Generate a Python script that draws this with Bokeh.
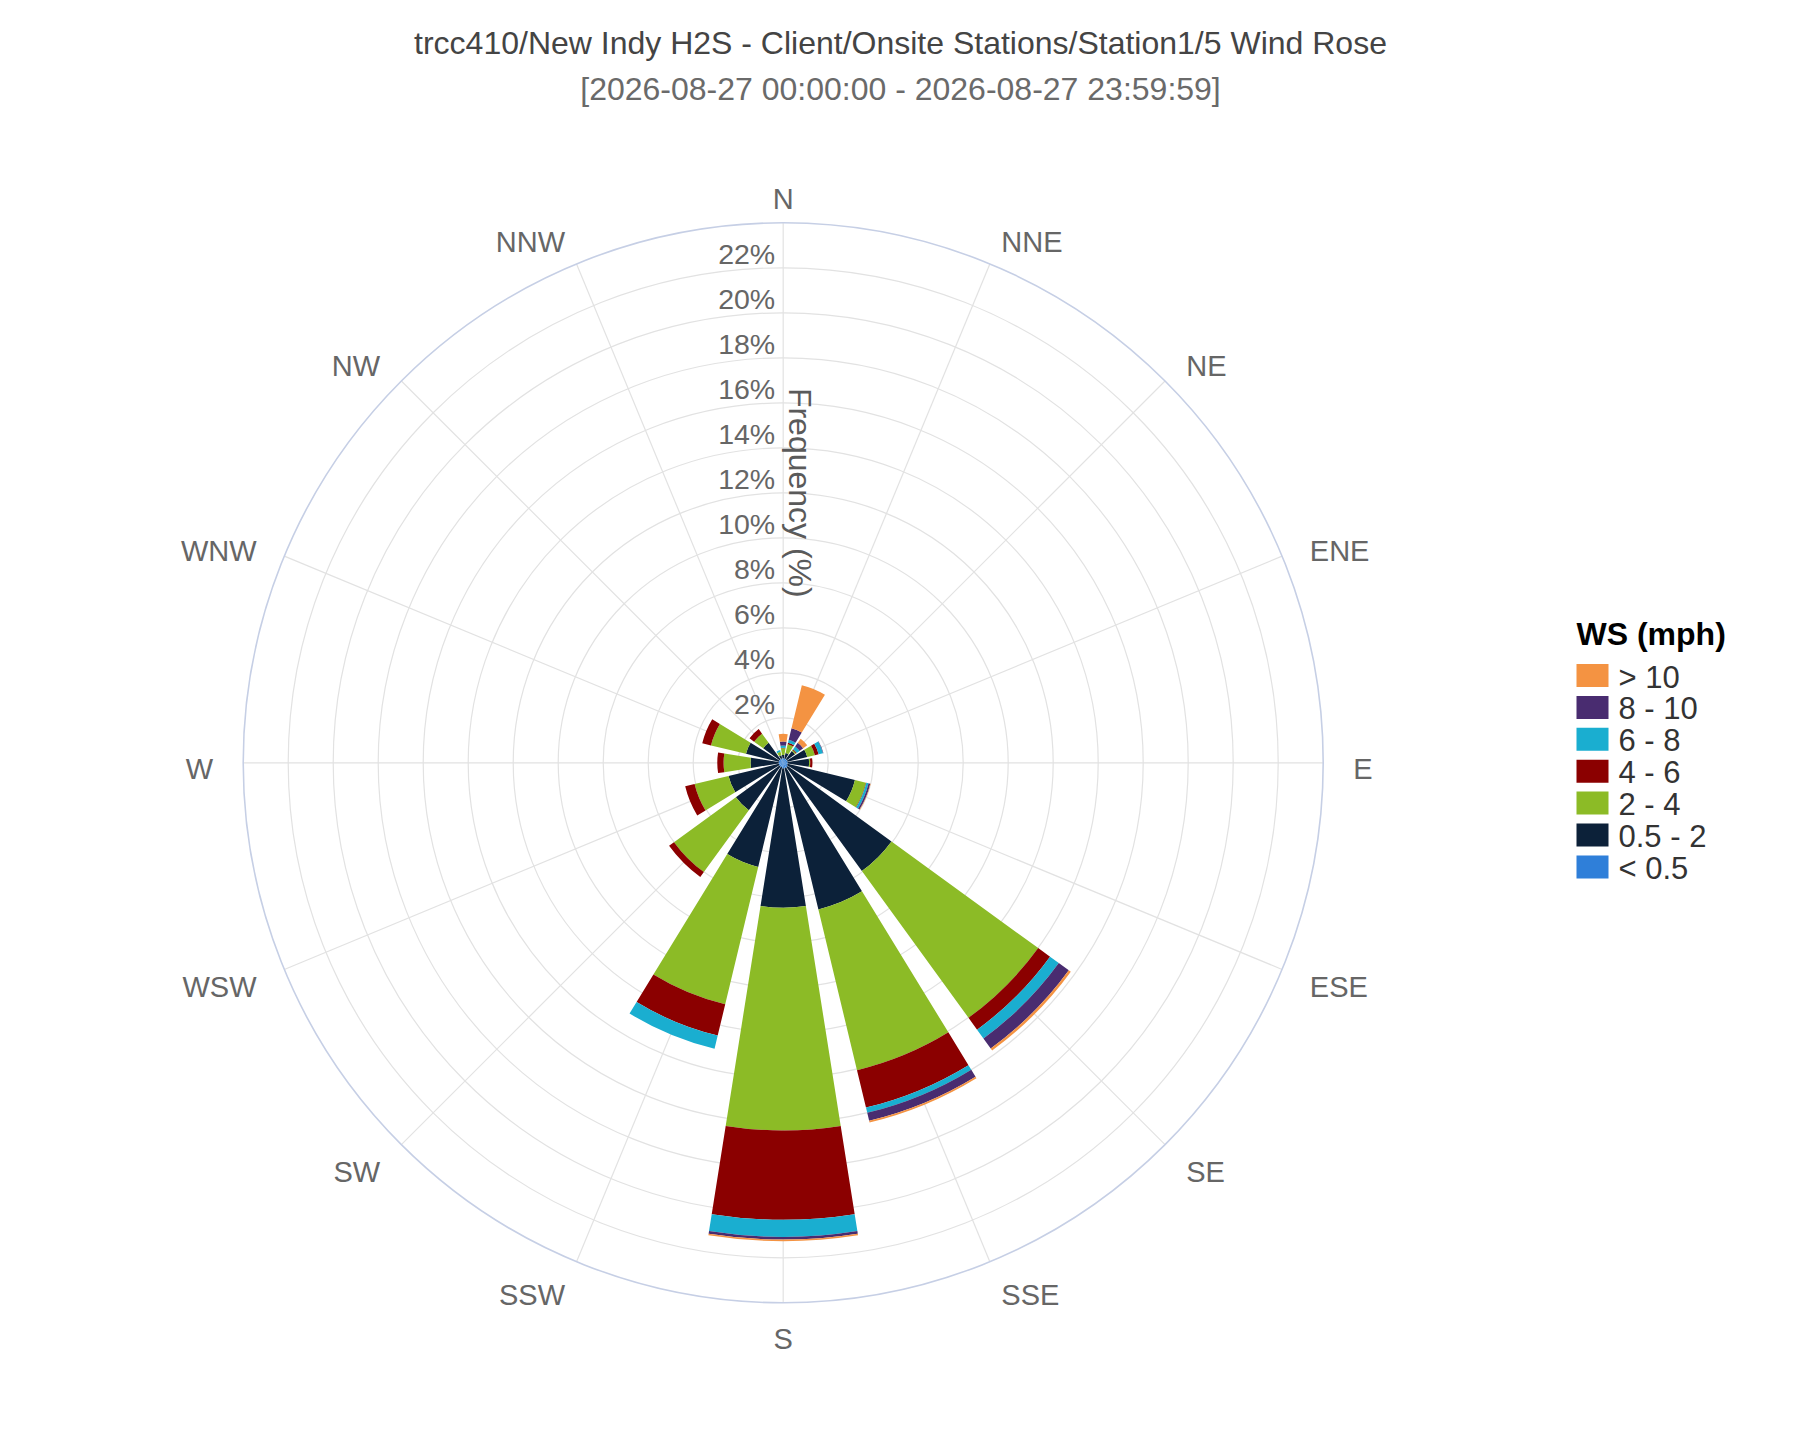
import numpy as np
from bokeh.plotting import figure
from bokeh.models import Range1d, ColumnDataSource
from bokeh.embed import file_html
from bokeh.resources import INLINE
from bokeh.core.properties import value

# ---------------- data ----------------
title_text = "trcc410/New Indy H2S - Client/Onsite Stations/Station1/5 Wind Rose"
subtitle_text = "[2026-08-27 00:00:00 - 2026-08-27 23:59:59]"
radial_title = "Frequency (%)"
legend_title = "WS (mph)"

directions = ["N", "NNE", "NE", "ENE", "E", "ESE", "SE", "SSE",
              "S", "SSW", "SW", "WSW", "W", "WNW", "NW", "NNW"]
speed_bins = ["< 0.5", "0.5 - 2", "2 - 4", "4 - 6", "6 - 8", "8 - 10", "> 10"]
bin_colors = ["#2f7fd9", "#0c2139", "#8cbb26", "#8b0000", "#1aaed0", "#492c70", "#f49342"]

#            N     NNE   NE    ENE   E     ESE   SE    SSE   S     SSW   SW    WSW   W     WNW   NW    NNW
freq_lt05 = [0.20, 0.20, 0.20, 0.20, 0.20, 0.20, 0.25, 0.25, 0.25, 0.20, 0.20, 0.20, 0.20, 0.20, 0.20, 0.20]
freq_05_2 = [0.15, 0.25, 0.45, 0.90, 0.95, 3.08, 5.70, 6.45, 6.19, 4.56, 2.40, 2.30, 1.25, 1.50, 0.90, 0.15]
freq_2_4  = [0.30, 0.40, 0.05, 0.35, 0.05, 0.50, 8.06, 7.35, 9.90, 6.28, 3.40, 1.55, 1.20, 1.60, 0.50, 0.15]
freq_4_6  = [0.02, 0.07, 0.05, 0.17, 0.10, 0.02, 0.65, 1.71, 3.97, 1.43, 0.27, 0.43, 0.28, 0.40, 0.25, 0.00]
freq_6_8  = [0.10, 0.13, 0.15, 0.20, 0.00, 0.10, 0.48, 0.24, 0.76, 0.60, 0.00, 0.00, 0.00, 0.00, 0.00, 0.08]
freq_8_10 = [0.18, 0.53, 0.20, 0.02, 0.00, 0.08, 0.55, 0.36, 0.12, 0.00, 0.00, 0.00, 0.00, 0.00, 0.00, 0.00]
freq_gt10 = [0.34, 1.97, 0.22, 0.00, 0.00, 0.02, 0.11, 0.08, 0.07, 0.00, 0.00, 0.00, 0.00, 0.00, 0.00, 0.00]

radial_ticks = [2, 4, 6, 8, 10, 12, 14, 16, 18, 20, 22]
radial_max = 24.0

series = [freq_lt05, freq_05_2, freq_2_4, freq_4_6, freq_6_8, freq_8_10, freq_gt10]

# ---------------- layout ----------------
W, H = 1784, 1424
SCALE = 22.5                  # pixels per percent
CX, CY = 782.7, 762.3         # polar centre on the canvas (px)
FONT = value("Liberation Sans")

p = figure(width=W, height=H, output_backend="svg", toolbar_location=None,
           x_range=Range1d(-CX / SCALE, (W - CX) / SCALE),
           y_range=Range1d(-(H - CY) / SCALE, CY / SCALE),
           x_axis_type=None, y_axis_type=None, min_border=0)
p.grid.visible = False
p.outline_line_color = None
p.background_fill_color = "white"


def canvas_xy(px, py):
    """canvas pixel position -> data units"""
    return (px - CX) / SCALE, (CY - py) / SCALE


compass = np.arange(len(directions)) * 22.5
math_ang = np.deg2rad(90.0 - compass)
half_w = np.deg2rad(9.0)

# grid
p.circle(x=0, y=0, radius=radial_ticks, fill_color=None, line_color="#e2e2e2", line_width=1.2)
p.segment(x0=np.zeros(16), y0=np.zeros(16),
          x1=radial_max * np.cos(math_ang), y1=radial_max * np.sin(math_ang),
          line_color="#e2e2e2", line_width=1.2)
p.circle(x=0, y=0, radius=[radial_max], fill_color=None, line_color="#c6cfe5", line_width=1.6)

# stacked bars
cum = np.zeros(len(directions))
for name, vals, col in zip(speed_bins, series, bin_colors):
    vals = np.array(vals, dtype=float)
    src = ColumnDataSource(dict(
        x=np.zeros(16), y=np.zeros(16),
        inner=cum.copy(), outer=cum + vals,
        start=math_ang - half_w, end=math_ang + half_w,
        direction=directions, freq=vals))
    p.annular_wedge(x="x", y="y", inner_radius="inner", outer_radius="outer",
                    start_angle="start", end_angle="end", source=src,
                    fill_color=col, line_color=None)
    cum = cum + vals

# radial tick labels (sit just above their grid circle, left of the axis)
p.text(x=np.zeros(len(radial_ticks)), y=radial_ticks,
       text=[f"{t}%" for t in radial_ticks],
       text_align="right", text_baseline="middle", x_offset=-8, y_offset=-13.5,
       text_font=FONT, text_font_size="28.5px", text_color="#666666")

# radial axis title
p.text(x=[17.0 / SCALE], y=[radial_max / 2], text=[radial_title], angle=-np.pi / 2,
       text_align="center", text_baseline="middle",
       text_font=FONT, text_font_size="32px", text_color="#5a5a5a")

# direction labels
lab_r = radial_max + 30.0 / SCALE
dx = np.cos(math_ang)
dy = np.sin(math_ang)
for align, mask in (("left", dx > 0.05), ("right", dx < -0.05), ("center", np.abs(dx) <= 0.05)):
    idx = np.where(mask)[0]
    p.text(x=lab_r * dx[idx], y=lab_r * dy[idx], text=[directions[i] for i in idx],
           text_align=align, text_baseline="middle", y_offset=6,
           text_font=FONT, text_font_size="29px", text_color="#666666")

# titles
tx, ty = canvas_xy(900, 42.7)
p.text(x=[tx], y=[ty], text=[title_text], text_align="center", text_baseline="middle",
       text_font=FONT, text_font_size="32px", text_color="#444444")
sx, sy = canvas_xy(900, 88.8)
p.text(x=[sx], y=[sy], text=[subtitle_text], text_align="center", text_baseline="middle",
       text_font=FONT, text_font_size="32px", text_color="#6a6a6a")

# legend (top entry = fastest bin)
LEG_X, LEG_Y0, LEG_PITCH = 1576.0, 675.0, 31.9
order = list(range(len(speed_bins)))[::-1]
sw = [canvas_xy(LEG_X + 16, LEG_Y0 + k * LEG_PITCH) for k in range(len(order))]
p.rect(x=[s[0] for s in sw], y=[s[1] for s in sw], width=32, height=23,
       width_units="screen", height_units="screen",
       fill_color=[bin_colors[i] for i in order], line_color=None)
lb = [canvas_xy(LEG_X + 42, LEG_Y0 + k * LEG_PITCH) for k in range(len(order))]
p.text(x=[l[0] for l in lb], y=[l[1] for l in lb], text=[speed_bins[i] for i in order],
       text_align="left", text_baseline="middle", y_offset=1.5,
       text_font=FONT, text_font_size="31px", text_color="#333333")
ltx, lty = canvas_xy(LEG_X, 632.0)
p.text(x=[ltx], y=[lty], text=[legend_title], text_align="left", text_baseline="middle",
       y_offset=1.5, text_font=FONT, text_font_size="32px", text_font_style="bold",
       text_color="#000000")

open("out.html", "w").write(file_html(p, INLINE))
